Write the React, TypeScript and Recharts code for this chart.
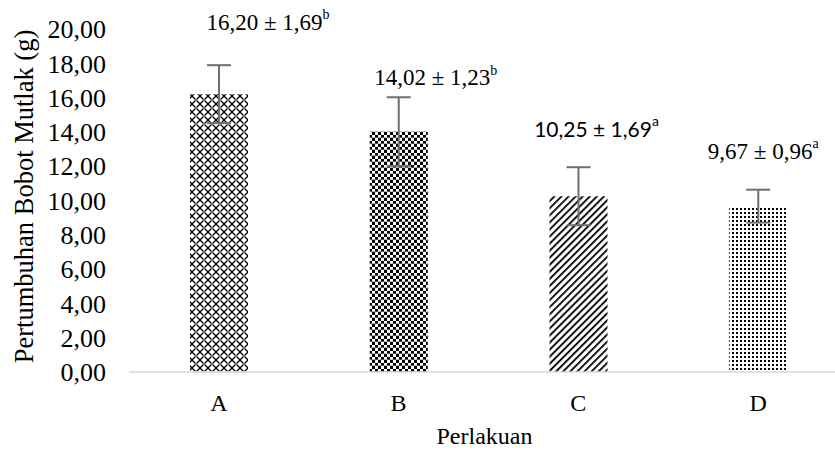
import { Bar, BarChart, Cell, ErrorBar, LabelList, XAxis, YAxis } from "recharts";

const perlakuan = ["A", "B", "C", "D"];
const rataRata = [16.2, 14.02, 10.25, 9.67];
// sd as written in the labels
const simpangan = [1.69, 1.23, 1.69, 0.96];
// whisker length as drawn in the picture
const errorGambar = [1.69, 2.0, 1.69, 0.96];
const notasi = ["b", "b", "a", "a"];
const yTicks = [0, 2, 4, 6, 8, 10, 12, 14, 16, 18, 20];

const serif = "'Liberation Serif', 'Times New Roman', serif";
const sans = "Lato, 'Open Sans', sans-serif";

const data = perlakuan.map((p, i) => ({ name: p, nilai: rataRata[i], err: errorGambar[i] }));

const fmt = (v: number) => v.toFixed(2).replace(".", ",");

// where each label sits relative to its bar top (the labels were dragged by hand)
const labelPos = [
    { dx: 49, dy: -72, font: serif, size: 23 },
    { dx: 37, dy: -54, font: serif, size: 23 },
    { dx: 18, dy: -68, font: sans, size: 21 },
    { dx: 5, dy: -55, font: serif, size: 23 },
];

const patterns = ["url(#patA)", "url(#patB)", "url(#patC)", "url(#patD)"];

function NilaiLabel(props: any) {
    const { x, y, width, index } = props;
    const s = labelPos[index];
    if (!s) return null;
    const cx = Number(x) + Number(width) / 2 + s.dx;
    const cy = Number(y) + s.dy;
    return (
        <text x={cx} y={cy} textAnchor="middle" dominantBaseline="central" fontFamily={s.font} fontSize={s.size} fill="#000">
            {`${fmt(rataRata[index])} ± ${fmt(simpangan[index])}`}
            <tspan fontSize={14} dy={-8}>{notasi[index]}</tspan>
        </text>
    );
}

function JudulY(props: any) {
    const vb = props.viewBox || { x: 0, y: 29, width: 129, height: 343 };
    const cx = vb.x + 24;
    const cy = vb.y + vb.height / 2 - 4;
    return (
        <text x={cx} y={cy} transform={`rotate(-90 ${cx} ${cy})`} textAnchor="middle" dominantBaseline="central" fontFamily={serif} fontSize={26.5} fill="#000">
            Pertumbuhan Bobot Mutlak (g)
        </text>
    );
}

function JudulX(props: any) {
    const vb = props.viewBox || { x: 129, y: 372, width: 719, height: 78 };
    return (
        <text x={vb.x + vb.width / 2 - 4} y={vb.y + vb.height - 6} textAnchor="middle" fontFamily={serif} fontSize={24} fill="#000">
            Perlakuan
        </text>
    );
}

export default function App() {
    return (
        <div style={{ position: "fixed", left: 0, top: 0, width: 835, height: 450, overflow: "hidden", background: "#fff" }}>
            <BarChart width={850} height={450} data={data} margin={{ top: 29, right: 2, left: 0, bottom: 0 }}>
                <defs>
                    <pattern id="patA" width={8} height={8} patternUnits="userSpaceOnUse">
                        <rect width={8} height={8} fill="#fff" />
                        <path d="M0,0 L8,8 M8,0 L0,8" stroke="#000" strokeWidth={1.3} />
                        <rect x={3} y={3} width={2} height={2} fill="#777" />
                    </pattern>
                    <pattern id="patB" width={6} height={6} patternUnits="userSpaceOnUse">
                        <rect width={6} height={6} fill="#fff" />
                        <rect x={0} y={0} width={3} height={3} fill="#000" />
                        <rect x={3} y={3} width={3} height={3} fill="#000" />
                        <rect x={0} y={5} width={6} height={1} fill="#888" opacity={0.6} />
                    </pattern>
                    <pattern id="patC" width={5} height={5} patternUnits="userSpaceOnUse" patternTransform="rotate(45)">
                        <rect width={5} height={5} fill="#fff" />
                        <rect x={0} y={0} width={1.8} height={5} fill="#000" />
                    </pattern>
                    <pattern id="patD" width={4} height={4} patternUnits="userSpaceOnUse">
                        <rect width={4} height={4} fill="#fff" />
                        <rect x={0} y={0} width={2} height={2} fill="#000" />
                    </pattern>
                </defs>

                <XAxis
                    dataKey="name"
                    height={78}
                    axisLine={{ stroke: "#d9d9d9", strokeWidth: 1.5 }}
                    tickLine={false}
                    tickSize={0}
                    tickMargin={22}
                    tick={{ fill: "#000", fontSize: 24, fontFamily: serif }}
                    label={{ content: JudulX }}
                />
                <YAxis
                    width={129}
                    domain={[0, 20]}
                    ticks={yTicks}
                    interval={0}
                    axisLine={false}
                    tickLine={false}
                    tickSize={0}
                    tickMargin={23}
                    tickFormatter={fmt}
                    tick={{ fill: "#000", fontSize: 26, fontFamily: serif }}
                    label={{ content: JudulY }}
                />
                <Bar dataKey="nilai" barSize={58} isAnimationActive={false}>
                    {data.map((d, i) => (
                        <Cell key={d.name} fill={patterns[i]} />
                    ))}
                    <ErrorBar dataKey="err" direction="y" width={12} stroke="#6f6f6f" strokeWidth={2} isAnimationActive={false} />
                    <LabelList dataKey="nilai" content={NilaiLabel} />
                </Bar>
            </BarChart>
        </div>
    );
}
